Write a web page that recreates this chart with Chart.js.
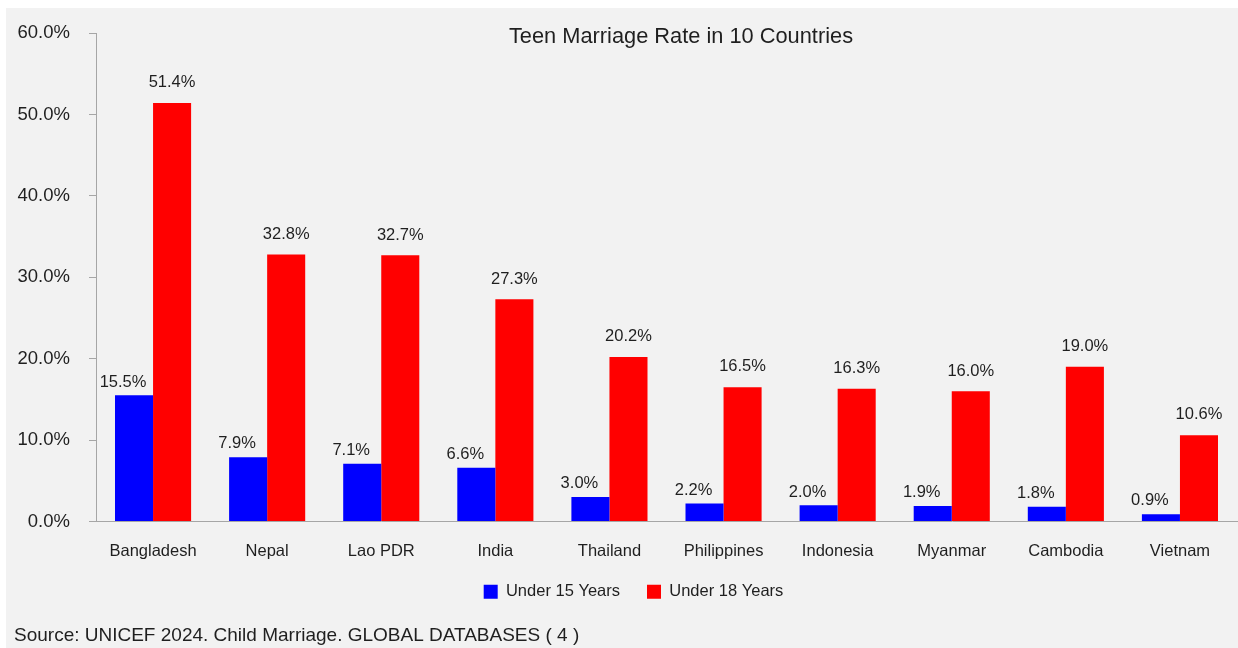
<!DOCTYPE html>
<html>
<head>
<meta charset="utf-8">
<script src="https://cdn.jsdelivr.net/npm/chart.js@4"></script>
<style>
  html, body { margin: 0; padding: 0; background: #fff; }
  #wrap { width: 1238px; height: 648px; position: relative; }
</style>
</head>
<body>
<div id="wrap"><canvas id="chart"></canvas></div>
<script>
// data
const countries = ['Bangladesh', 'Nepal', 'Lao PDR', 'India', 'Thailand', 'Philippines', 'Indonesia', 'Myanmar', 'Cambodia', 'Vietnam'];
const under15 = [15.5, 7.9, 7.1, 6.6, 3.0, 2.2, 2.0, 1.9, 1.8, 0.9];
const under18 = [51.4, 32.8, 32.7, 27.3, 20.2, 16.5, 16.3, 16.0, 19.0, 10.6];
const seriesNames = ['Under 15 Years', 'Under 18 Years'];
const yTicks = [0, 10, 20, 30, 40, 50, 60];

const FONT = '"Liberation Sans", Arial, sans-serif';
const TEXT = '#1f1f1f';

// gray panel behind everything, title and source line
const decor = {
    id: 'decor',
    beforeDraw(chart) {
        const ctx = chart.ctx;
        ctx.save();
        ctx.fillStyle = '#f2f2f2';
        ctx.fillRect(6, 8, chart.width, chart.height);
        ctx.restore();
    },
    afterLayout(chart) {
        // legend in the reference sits a little right of centre and a bit higher
        const lg = chart.legend;
        if (lg) { lg.left += 12; lg.right += 12; lg.top -= 13; lg.bottom -= 13; }
    },
    afterDraw(chart) {
        const ctx = chart.ctx;
        ctx.save();
        ctx.fillStyle = TEXT;
        ctx.font = '21.8px ' + FONT;
        ctx.textAlign = 'center';
        ctx.textBaseline = 'middle';
        ctx.fillText('Teen Marriage Rate in 10 Countries', 681, 37);
        ctx.font = '19px ' + FONT;
        ctx.textAlign = 'left';
        ctx.fillText('Source: UNICEF 2024. Child Marriage. GLOBAL DATABASES ( 4 )', 14, 636);
        ctx.restore();
    }
};

// value labels above bars (blue ones sit a bit to the left, red ones a bit higher)
const valueLabels = {
    id: 'valueLabels',
    afterDatasetsDraw(chart) {
        const ctx = chart.ctx;
        const dx = [-11, 0], dy = [5, 12];
        ctx.save();
        ctx.fillStyle = TEXT;
        ctx.font = '16.5px ' + FONT;
        ctx.textAlign = 'center';
        ctx.textBaseline = 'bottom';
        chart.data.datasets.forEach((ds, i) => {
            chart.getDatasetMeta(i).data.forEach((bar, j) => {
                ctx.fillText(ds.data[j].toFixed(1) + '%', bar.x + dx[i], bar.y - dy[i]);
            });
        });
        ctx.restore();
    }
};

new Chart(document.getElementById('chart'), {
    type: 'bar',
    data: {
        labels: countries,
        datasets: [
            { label: seriesNames[0], data: under15, backgroundColor: '#0000ff', borderWidth: 0 },
            { label: seriesNames[1], data: under18, backgroundColor: '#ff0000', borderWidth: 0 }
        ]
    },
    options: {
        responsive: true,
        maintainAspectRatio: false,
        animation: false,
        layout: { padding: { left: 6, top: 33, right: 1, bottom: 25 } },
        datasets: { bar: { categoryPercentage: 0.667, barPercentage: 1.0 } },
        plugins: {
            legend: {
                position: 'bottom',
                labels: {
                    color: TEXT,
                    font: { family: FONT, size: 16.5 },
                    boxWidth: 14,
                    boxHeight: 14,
                    padding: 27
                }
            },
            tooltip: { enabled: false }
        },
        scales: {
            x: {
                grid: { display: false, drawTicks: false },
                border: { color: '#a6a6a6', width: 1 },
                ticks: { color: TEXT, font: { family: FONT, size: 16.5 }, padding: 20 },
                afterFit: s => { s.height = 48; }
            },
            y: {
                min: 0,
                max: 60,
                afterBuildTicks: s => { s.ticks = yTicks.map(v => ({ value: v })); },
                grid: { display: true, drawOnChartArea: false, tickLength: 7, color: '#a6a6a6' },
                border: { color: '#a6a6a6', width: 1 },
                ticks: {
                    color: TEXT,
                    font: { family: FONT, size: 18.5 },
                    padding: 19,
                    callback: v => v.toFixed(1) + '%'
                },
                afterFit: s => { s.width = 90; }
            }
        }
    },
    plugins: [decor, valueLabels]
});
</script>
</body>
</html>
